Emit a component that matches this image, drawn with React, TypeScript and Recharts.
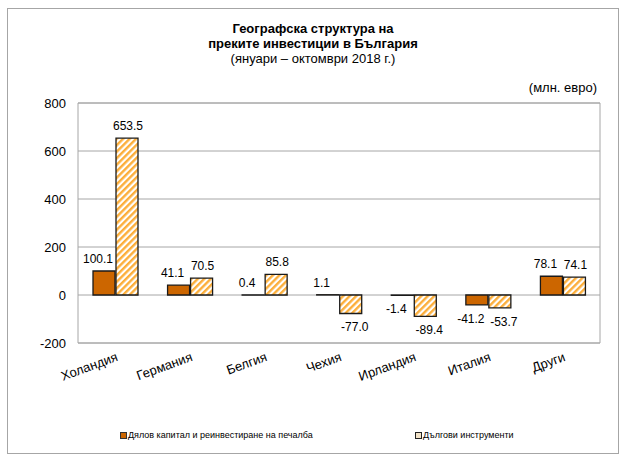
import {
  Bar,
  BarChart,
  CartesianGrid,
  LabelList,
  ReferenceArea,
  XAxis,
  YAxis,
} from "recharts";

const countries = ["Холандия", "Германия", "Белгия", "Чехия", "Ирландия", "Италия", "Други"];
const equityValues = [100.1, 41.1, 0.4, 1.1, -1.4, -41.2, 78.1];
const debtValues = [653.5, 70.5, 85.8, -77.0, -89.4, -53.7, 74.1];
const yTicks = [-200, 0, 200, 400, 600, 800];
const seriesNames = ["Дялов капитал и реинвестиране на печалба", "Дългови инструменти"];
const titleLines = ["Географска структура на", "преките инвестиции в България", "(януари – октомври 2018 г.)"];
const unitLabel = "(млн. евро)";

const data = countries.map((name, i) => ({
  name,
  equity: equityValues[i],
  debt: debtValues[i],
}));

const FONT = '"Liberation Sans", Arial, sans-serif';
const ORANGE = "#CC6600";
const STRIPE = "#FCAE3A";
const GRID = "#a6a6a6";

// excel nudges the labels a bit sideways so neighbours don't collide
const makeValueLabel = (shiftPos: number, shiftNeg: number) => (props: any) => {
  const vb = props.viewBox ?? props;
  const x = Number(props.x ?? vb.x);
  const y = Number(props.y ?? vb.y);
  const width = Number(props.width ?? vb.width);
  const height = Number(props.height ?? vb.height);
  const value = Number(props.value);
  const top = Math.min(y, y + height);
  const bottom = Math.max(y, y + height);
  const ty = value >= 0 ? top - 8 : bottom + 18;
  const dx = value >= 0 ? shiftPos : shiftNeg;
  return (
    <text
      x={x + width / 2 + dx}
      y={ty}
      textAnchor="middle"
      fontSize={12}
      fontFamily={FONT}
      fill="#000"
    >
      {value.toFixed(1)}
    </text>
  );
};

const CategoryTick = (props: any) => {
  const { x, y, payload } = props;
  return (
    <g transform={`translate(${x},${y})`}>
      <text
        transform="rotate(-20)"
        textAnchor="end"
        x={0}
        y={0}
        dy={10}
        fontSize={13}
        fontFamily={FONT}
        fill="#000"
      >
        {payload.value}
      </text>
    </g>
  );
};

export default function App() {
  return (
    <div style={{ position: "absolute", left: 0, top: 0, width: 626, height: 464, fontFamily: FONT, background: "#fff" }}>
      <div
        style={{
          position: "absolute",
          left: 7,
          top: 8,
          width: 610,
          height: 444,
          border: "1px solid #a6a6a6",
        }}
      />
      <div style={{ position: "absolute", left: 0, top: 21, width: 626, textAlign: "center", color: "#000" }}>
        <div style={{ fontSize: 13, fontWeight: "bold", lineHeight: "15px" }}>{titleLines[0]}</div>
        <div style={{ fontSize: 13, fontWeight: "bold", lineHeight: "15px" }}>{titleLines[1]}</div>
        <div style={{ fontSize: 13, lineHeight: "15px" }}>{titleLines[2]}</div>
      </div>
      <div style={{ position: "absolute", right: 29, top: 80, fontSize: 13, color: "#000" }}>{unitLabel}</div>
      <div style={{ position: "absolute", left: 0, top: 0 }}>
        <BarChart
          width={626}
          height={464}
          data={data}
          margin={{ top: 103, right: 26, left: 38, bottom: 91 }}
          barSize={22}
          barGap={1}
        >
          <defs>
            <pattern
              id="debt-hatch"
              patternUnits="userSpaceOnUse"
              width={4.6}
              height={4.6}
              patternTransform="rotate(45)"
            >
              <rect x={0} y={0} width={4.6} height={4.6} fill="#fff" />
              <rect x={0} y={0} width={2.4} height={4.6} fill={STRIPE} />
            </pattern>
          </defs>
          <CartesianGrid vertical={false} stroke={GRID} />
          <ReferenceArea y1={-200} y2={800} fill="none" stroke={GRID} strokeWidth={1} ifOverflow="visible" />
          <XAxis
            dataKey="name"
            axisLine={false}
            tickLine={false}
            interval={0}
            height={30}
            tick={<CategoryTick />}
          />
          <YAxis
            domain={[-200, 800]}
            ticks={yTicks}
            axisLine={false}
            tickLine={false}
            tickMargin={6}
            width={40}
            tick={{ fontSize: 13, fill: "#000", fontFamily: FONT }}
          />
          <Bar
            dataKey="equity"
            name={seriesNames[0]}
            fill={ORANGE}
            stroke="#1a1a1a"
            strokeWidth={1.3}
            isAnimationActive={false}
          >
            <LabelList dataKey="equity" content={makeValueLabel(-6, -6)} />
          </Bar>
          <Bar
            dataKey="debt"
            name={seriesNames[1]}
            fill="url(#debt-hatch)"
            stroke="#1a1a1a"
            strokeWidth={1.3}
            isAnimationActive={false}
          >
            <LabelList dataKey="debt" content={makeValueLabel(1, 4)} />
          </Bar>
        </BarChart>
      </div>
      <div style={{ position: "absolute", left: 120, top: 430, display: "flex", alignItems: "center", fontSize: 9, color: "#000" }}>
        <span style={{ display: "inline-block", width: 5, height: 5, background: ORANGE, border: "1px solid #333", marginRight: 1 }} />
        {seriesNames[0]}
      </div>
      <div style={{ position: "absolute", left: 415, top: 430, display: "flex", alignItems: "center", fontSize: 9, color: "#000" }}>
        <span style={{ display: "inline-block", width: 5, height: 5, background: "#f3e3c8", border: "1px solid #222", marginRight: 1 }} />
        {seriesNames[1]}
      </div>
    </div>
  );
}
